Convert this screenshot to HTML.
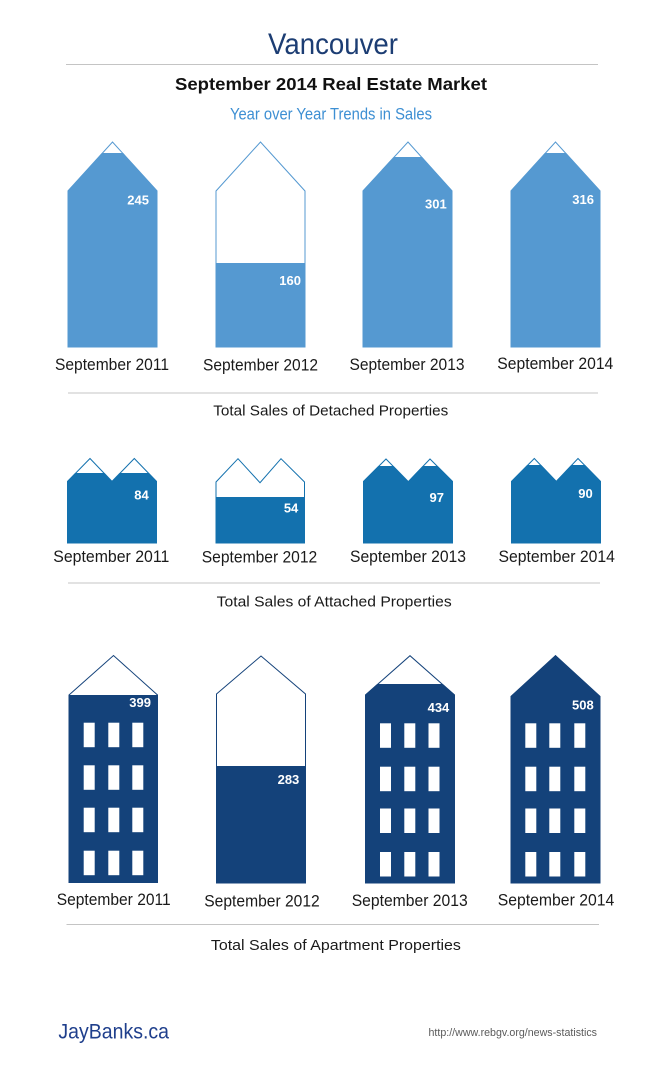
<!DOCTYPE html>
<html>
<head>
<meta charset="utf-8">
<style>
  html, body { margin:0; padding:0; background:#ffffff; }
  svg { display:block; }
  .lbl { font-family:"Liberation Sans", Arial, sans-serif; font-size:16.5px; fill:#1a1a1a; }
  .cap { font-family:"Liberation Sans", Arial, sans-serif; font-size:15px; fill:#1a1a1a; }
  .val { font-family:"Liberation Sans", Arial, sans-serif; font-size:13px; font-weight:bold; fill:#ffffff; }
</style>
</head>
<body>
<svg width="660" height="1084" viewBox="0 0 660 1084" xmlns="http://www.w3.org/2000/svg">
  <defs>
    <clipPath id="d1"><rect x="0" y="153" width="660" height="300"/></clipPath>
    <clipPath id="d2"><rect x="0" y="263" width="660" height="300"/></clipPath>
    <clipPath id="d3"><rect x="0" y="157" width="660" height="300"/></clipPath>
    <clipPath id="d4"><rect x="0" y="153" width="660" height="300"/></clipPath>
    <clipPath id="a1"><rect x="0" y="473" width="660" height="200"/></clipPath>
    <clipPath id="a2"><rect x="0" y="497" width="660" height="200"/></clipPath>
    <clipPath id="a3"><rect x="0" y="466" width="660" height="200"/></clipPath>
    <clipPath id="a4"><rect x="0" y="465" width="660" height="200"/></clipPath>
    <clipPath id="p1"><rect x="0" y="695" width="660" height="300"/></clipPath>
    <clipPath id="p2"><rect x="0" y="766" width="660" height="300"/></clipPath>
    <clipPath id="p3"><rect x="0" y="684" width="660" height="300"/></clipPath>
    <clipPath id="p4"><rect x="0" y="650" width="660" height="300"/></clipPath>
  </defs>

  <!-- Header -->
  <text x="333" y="54" text-anchor="middle" font-family="'Liberation Sans', Arial, sans-serif" font-size="30" fill="#1c3d73" textLength="130" lengthAdjust="spacingAndGlyphs">Vancouver</text>
  <line x1="66" y1="64.5" x2="598" y2="64.5" stroke="#c4c4c4" stroke-width="1"/>
  <text x="331" y="90" text-anchor="middle" font-family="'Liberation Sans', Arial, sans-serif" font-size="17.5" font-weight="bold" fill="#111111" textLength="312" lengthAdjust="spacingAndGlyphs">September 2014 Real Estate Market</text>
  <text x="331" y="119.3" text-anchor="middle" font-family="'Liberation Sans', Arial, sans-serif" font-size="16.5" fill="#3d8fd3" textLength="202" lengthAdjust="spacingAndGlyphs">Year over Year Trends in Sales</text>

  <!-- Detached -->
  <g fill="#5599d1" stroke="#5599d1" stroke-width="1">
    <polygon points="68,191 112.5,142 157,191 157,347 68,347" fill="none"/>
    <polygon points="68,191 112.5,142 157,191 157,347 68,347" clip-path="url(#d1)"/>
    <polygon points="216,191 260.5,142 305,191 305,347 216,347" fill="none"/>
    <polygon points="216,191 260.5,142 305,191 305,347 216,347" clip-path="url(#d2)"/>
    <polygon points="363,191 408,142 452,191 452,347 363,347" fill="none"/>
    <polygon points="363,191 408,142 452,191 452,347 363,347" clip-path="url(#d3)"/>
    <polygon points="511,191 555.5,142 600,191 600,347 511,347" fill="none"/>
    <polygon points="511,191 555.5,142 600,191 600,347 511,347" clip-path="url(#d4)"/>
  </g>
  <text class="val" x="149" y="204.5" text-anchor="end">245</text>
  <text class="val" x="301" y="285.2" text-anchor="end">160</text>
  <text class="val" x="446.7" y="208.5" text-anchor="end">301</text>
  <text class="val" x="594" y="203.8" text-anchor="end">316</text>

  <text class="lbl" x="112" y="370" text-anchor="middle" textLength="114" lengthAdjust="spacingAndGlyphs">September 2011</text>
  <text class="lbl" x="260.5" y="370.5" text-anchor="middle" textLength="115" lengthAdjust="spacingAndGlyphs">September 2012</text>
  <text class="lbl" x="407" y="370" text-anchor="middle" textLength="115" lengthAdjust="spacingAndGlyphs">September 2013</text>
  <text class="lbl" x="555.3" y="369" text-anchor="middle" textLength="116" lengthAdjust="spacingAndGlyphs">September 2014</text>

  <line x1="68" y1="393" x2="598" y2="393" stroke="#c4c4c4" stroke-width="1"/>
  <text class="cap" x="330.8" y="415.7" text-anchor="middle" textLength="235" lengthAdjust="spacingAndGlyphs">Total Sales of Detached Properties</text>

  <!-- Attached -->
  <g fill="#1371ae" stroke="#1371ae" stroke-width="1">
    <polygon points="67.5,481.5 90,458.5 112,481.5 134.3,458.5 156.5,481.5 156.5,543 67.5,543" fill="none"/>
    <polygon points="67.5,481.5 90,458.5 112,481.5 134.3,458.5 156.5,481.5 156.5,543 67.5,543" clip-path="url(#a1)"/>
    <polygon points="216,482 238,458.7 260,482.7 281,458.7 304.5,482 304.5,543 216,543" fill="none"/>
    <polygon points="216,482 238,458.7 260,482.7 281,458.7 304.5,482 304.5,543 216,543" clip-path="url(#a2)"/>
    <polygon points="363.5,481.5 386,459 408.3,481.7 430,459 452.5,481.5 452.5,543 363.5,543" fill="none"/>
    <polygon points="363.5,481.5 386,459 408.3,481.7 430,459 452.5,481.5 452.5,543 363.5,543" clip-path="url(#a3)"/>
    <polygon points="511.5,481.5 534.3,458.5 556.3,481.5 578,458.5 600.5,481.5 600.5,543 511.5,543" fill="none"/>
    <polygon points="511.5,481.5 534.3,458.5 556.3,481.5 578,458.5 600.5,481.5 600.5,543 511.5,543" clip-path="url(#a4)"/>
  </g>
  <text class="val" x="148.7" y="499.6" text-anchor="end">84</text>
  <text class="val" x="298.3" y="512.3" text-anchor="end">54</text>
  <text class="val" x="444" y="501.9" text-anchor="end">97</text>
  <text class="val" x="592.7" y="497.9" text-anchor="end">90</text>

  <text class="lbl" x="111.3" y="562" text-anchor="middle" textLength="116" lengthAdjust="spacingAndGlyphs">September 2011</text>
  <text class="lbl" x="259.5" y="562.5" text-anchor="middle" textLength="115.5" lengthAdjust="spacingAndGlyphs">September 2012</text>
  <text class="lbl" x="408" y="562" text-anchor="middle" textLength="116" lengthAdjust="spacingAndGlyphs">September 2013</text>
  <text class="lbl" x="556.7" y="562" text-anchor="middle" textLength="116.5" lengthAdjust="spacingAndGlyphs">September 2014</text>

  <line x1="68" y1="583" x2="600" y2="583" stroke="#c4c4c4" stroke-width="1"/>
  <text class="cap" x="334.2" y="606.5" text-anchor="middle" textLength="235" lengthAdjust="spacingAndGlyphs">Total Sales of Attached Properties</text>

  <!-- Apartments -->
  <g fill="#14427a" stroke="#14427a" stroke-width="1">
    <polygon points="69,695 113.5,655.5 157.5,695 157.5,882.5 69,882.5" fill="none"/>
    <polygon points="69,695 113.5,655.5 157.5,695 157.5,882.5 69,882.5" clip-path="url(#p1)"/>
    <polygon points="216.5,694 261,656 305.5,694 305.5,883 216.5,883" fill="none"/>
    <polygon points="216.5,694 261,656 305.5,694 305.5,883 216.5,883" clip-path="url(#p2)"/>
    <polygon points="365.5,695 410,655.7 454.5,695 454.5,883 365.5,883" fill="none"/>
    <polygon points="365.5,695 410,655.7 454.5,695 454.5,883 365.5,883" clip-path="url(#p3)"/>
    <polygon points="511,696.5 555.5,655.7 600,696.5 600,883 511,883" fill="none"/>
    <polygon points="511,696.5 555.5,655.7 600,696.5 600,883 511,883" clip-path="url(#p4)"/>
  </g>

  <!-- Windows -->
  <g fill="#ffffff">
    <!-- P1 -->
    <rect x="83.7" y="722.7" width="11" height="24.5"/><rect x="108.3" y="722.7" width="11" height="24.5"/><rect x="132.3" y="722.7" width="11" height="24.5"/>
    <rect x="83.7" y="765.3" width="11" height="24.5"/><rect x="108.3" y="765.3" width="11" height="24.5"/><rect x="132.3" y="765.3" width="11" height="24.5"/>
    <rect x="83.7" y="807.7" width="11" height="24.5"/><rect x="108.3" y="807.7" width="11" height="24.5"/><rect x="132.3" y="807.7" width="11" height="24.5"/>
    <rect x="83.7" y="850.7" width="11" height="24.5"/><rect x="108.3" y="850.7" width="11" height="24.5"/><rect x="132.3" y="850.7" width="11" height="24.5"/>
    <!-- P3 -->
    <rect x="380" y="723.3" width="11" height="24.5"/><rect x="404.3" y="723.3" width="11" height="24.5"/><rect x="428.5" y="723.3" width="11" height="24.5"/>
    <rect x="380" y="766.7" width="11" height="24.5"/><rect x="404.3" y="766.7" width="11" height="24.5"/><rect x="428.5" y="766.7" width="11" height="24.5"/>
    <rect x="380" y="808.5" width="11" height="24.5"/><rect x="404.3" y="808.5" width="11" height="24.5"/><rect x="428.5" y="808.5" width="11" height="24.5"/>
    <rect x="380" y="852" width="11" height="24.5"/><rect x="404.3" y="852" width="11" height="24.5"/><rect x="428.5" y="852" width="11" height="24.5"/>
    <!-- P4 -->
    <rect x="525.3" y="723.3" width="11" height="24.5"/><rect x="549.3" y="723.3" width="11" height="24.5"/><rect x="574.3" y="723.3" width="11" height="24.5"/>
    <rect x="525.3" y="766.7" width="11" height="24.5"/><rect x="549.3" y="766.7" width="11" height="24.5"/><rect x="574.3" y="766.7" width="11" height="24.5"/>
    <rect x="525.3" y="808.5" width="11" height="24.5"/><rect x="549.3" y="808.5" width="11" height="24.5"/><rect x="574.3" y="808.5" width="11" height="24.5"/>
    <rect x="525.3" y="852" width="11" height="24.5"/><rect x="549.3" y="852" width="11" height="24.5"/><rect x="574.3" y="852" width="11" height="24.5"/>
  </g>

  <text class="val" x="151" y="707.2" text-anchor="end">399</text>
  <text class="val" x="299.3" y="784.2" text-anchor="end">283</text>
  <text class="val" x="449.3" y="712.2" text-anchor="end">434</text>
  <text class="val" x="593.7" y="709.5" text-anchor="end">508</text>

  <text class="lbl" x="113.7" y="905" text-anchor="middle" textLength="114" lengthAdjust="spacingAndGlyphs">September 2011</text>
  <text class="lbl" x="262" y="906.5" text-anchor="middle" textLength="115.5" lengthAdjust="spacingAndGlyphs">September 2012</text>
  <text class="lbl" x="409.7" y="906" text-anchor="middle" textLength="116" lengthAdjust="spacingAndGlyphs">September 2013</text>
  <text class="lbl" x="556" y="905.7" text-anchor="middle" textLength="116.5" lengthAdjust="spacingAndGlyphs">September 2014</text>

  <line x1="66.5" y1="924.5" x2="599" y2="924.5" stroke="#c4c4c4" stroke-width="1"/>
  <text class="cap" x="335.9" y="950" text-anchor="middle" textLength="250" lengthAdjust="spacingAndGlyphs">Total Sales of Apartment Properties</text>

  <!-- Footer -->
  <text x="58.4" y="1038.3" font-family="'Liberation Sans', Arial, sans-serif" font-size="21" fill="#1f3f8c" textLength="110.6" lengthAdjust="spacingAndGlyphs">JayBanks.ca</text>
  <text x="428.5" y="1036" font-family="'Liberation Sans', Arial, sans-serif" font-size="11" fill="#5a5a5a" textLength="168.5" lengthAdjust="spacingAndGlyphs">http://www.rebgv.org/news-statistics</text>
</svg>
</body>
</html>
